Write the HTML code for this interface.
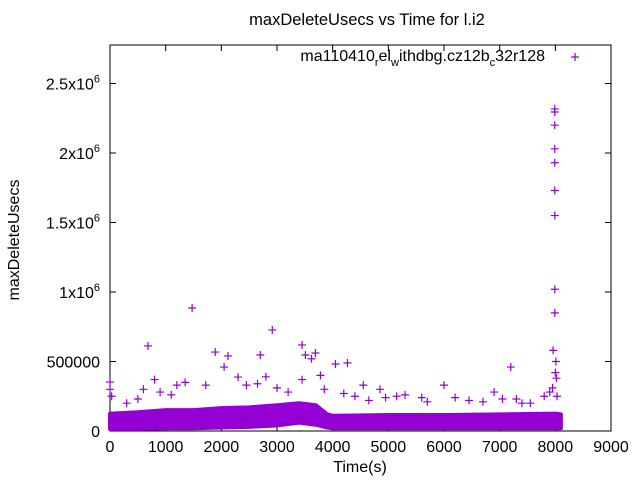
<!DOCTYPE html>
<html><head><meta charset="utf-8"><style>
html,body{margin:0;padding:0;background:#fff}
svg{display:block;font-family:"Liberation Sans",sans-serif}
</style></head><body>
<svg id="chart" width="640" height="480">
<rect x="0" y="0" width="640" height="480" fill="#fff"/>
<text x="367" y="25" font-size="16.5" text-anchor="middle">maxDeleteUsecs vs Time for l.i2</text>
<text x="360" y="472" font-size="16" text-anchor="middle">Time(s)</text>
<text x="0" y="0" font-size="16" text-anchor="middle" transform="translate(19,240) rotate(-90)">maxDeleteUsecs</text>
<g id="axes"></g>
<g id="band"></g>
<g id="points"></g>
<g>
<text x="545" y="61" font-size="16" text-anchor="end">ma110410<tspan font-size="11" dy="5">r</tspan><tspan dy="-5">el</tspan><tspan font-size="11" dy="5">w</tspan><tspan dy="-5">ithdbg.cz12b</tspan><tspan font-size="11" dy="5">c</tspan><tspan dy="-5">32r128</tspan></text>
<path d="M571,57h8M575,53v8" stroke="#9400d3" stroke-width="1.2"/>
</g>
</svg>
<script>
const xTicks=[0,1000,2000,3000,4000,5000,6000,7000,8000,9000];
const yTicks=[0,500000,1000000,1500000,2000000,2500000];
const yTickLabels=["0","500000","1x10|6","1.5x10|6","2x10|6","2.5x10|6"];
const bandX=[0,500,1000,1500,2000,2500,3000,3400,3700,3900,4000,5000,6000,7000,8000,8100];
const bandHi=[125000,135000,150000,150000,165000,170000,185000,200000,185000,120000,110000,115000,115000,120000,125000,120000];
const bandLo=[15000,15000,20000,20000,25000,30000,40000,60000,45000,25000,20000,20000,20000,20000,20000,20000];
const ptX=[0,683,1475,1890,2120,2300,2700,2915,3450,3510,3690,4265,4050,0,30,1720,2050,2450,2650,2800,3000,3200,3450,3620,3780,4200,4550,4850,5150,5300,5600,6000,6200,6450,6900,7200,7300,7550,7800,7900,7990,7990,7990,7990,7990,7990,7990,7990,7990,7960,8010,8000,8020,7950,8030,1200,1350,900,600,300,800,1100,500,4650,5700,7050,7400,4400,6700,3850,4950];
const ptY=[352000,612000,885000,568000,540000,388000,547000,727000,619000,547000,561000,489000,482000,300000,250000,330000,460000,330000,340000,390000,310000,280000,370000,520000,400000,270000,330000,300000,250000,260000,240000,330000,240000,220000,280000,460000,230000,200000,250000,280000,2317000,2295000,2200000,2030000,1930000,1730000,1550000,1020000,850000,580000,500000,420000,380000,310000,250000,330000,350000,280000,300000,200000,370000,260000,230000,220000,210000,230000,200000,250000,210000,300000,240000];
const X0=110,X1=611,Y0=431,YT=45;
const sx=v=>X0+v/9000*(X1-X0);
const sy=v=>Y0-v/1e6*139;
const NS="http://www.w3.org/2000/svg";
function mk(t,a,p){const e=document.createElementNS(NS,t);for(const k in a)e.setAttribute(k,a[k]);p.appendChild(e);return e;}
const ax=document.getElementById('axes');
const border=mk('rect',{x:X0,y:YT,width:X1-X0,height:Y0-YT,fill:'none',stroke:'#000','stroke-width':1},ax);


xTicks.forEach(v=>{
 const x=sx(v);
 const t=mk('path',{d:`M${x},${Y0}v-6M${x},${YT}v6`,stroke:'#000'},ax);
 
 
 const l=mk('text',{x:x,y:Y0+21,'font-size':16,'text-anchor':'middle'},ax);
 
 
 l.textContent=v;
});
yTicks.forEach((v,i)=>{
 const y=sy(v);
 const t=mk('path',{d:`M${X0},${y}h6M${X1},${y}h-6`,stroke:'#000'},ax);
 
 
 const l=mk('text',{x:X0-10,y:y+6,'font-size':16,'text-anchor':'end'},ax);
 
 
 const parts=yTickLabels[i].split('|');
 if(parts.length>1){
  const a=document.createElementNS(NS,'tspan');a.textContent=parts[0];l.appendChild(a);
  const b=document.createElementNS(NS,'tspan');b.setAttribute('dy','-7');b.setAttribute('font-size','11');b.textContent=parts[1];l.appendChild(b);
 } else l.textContent=parts[0];
});
const bd=document.getElementById('band');
let d='M'+bandX.map((x,i)=>sx(x)+','+sy(bandHi[i])).join('L');
for(let i=bandX.length-1;i>=0;i--)d+='L'+sx(bandX[i])+','+sy(bandLo[i]);
const band=mk('path',{d:d+'Z',fill:'#9400d3',stroke:'#9400d3','stroke-width':4,'stroke-linejoin':'round'},bd);


const pg=document.getElementById('points');
ptX.forEach((v,i)=>{
 const x=sx(v),y=sy(ptY[i]);
 const p=mk('path',{d:`M${x-4},${y}h8M${x},${y-4}v8`,stroke:'#9400d3','stroke-width':1.2},pg);
 
 
});
</script>
</body></html>
